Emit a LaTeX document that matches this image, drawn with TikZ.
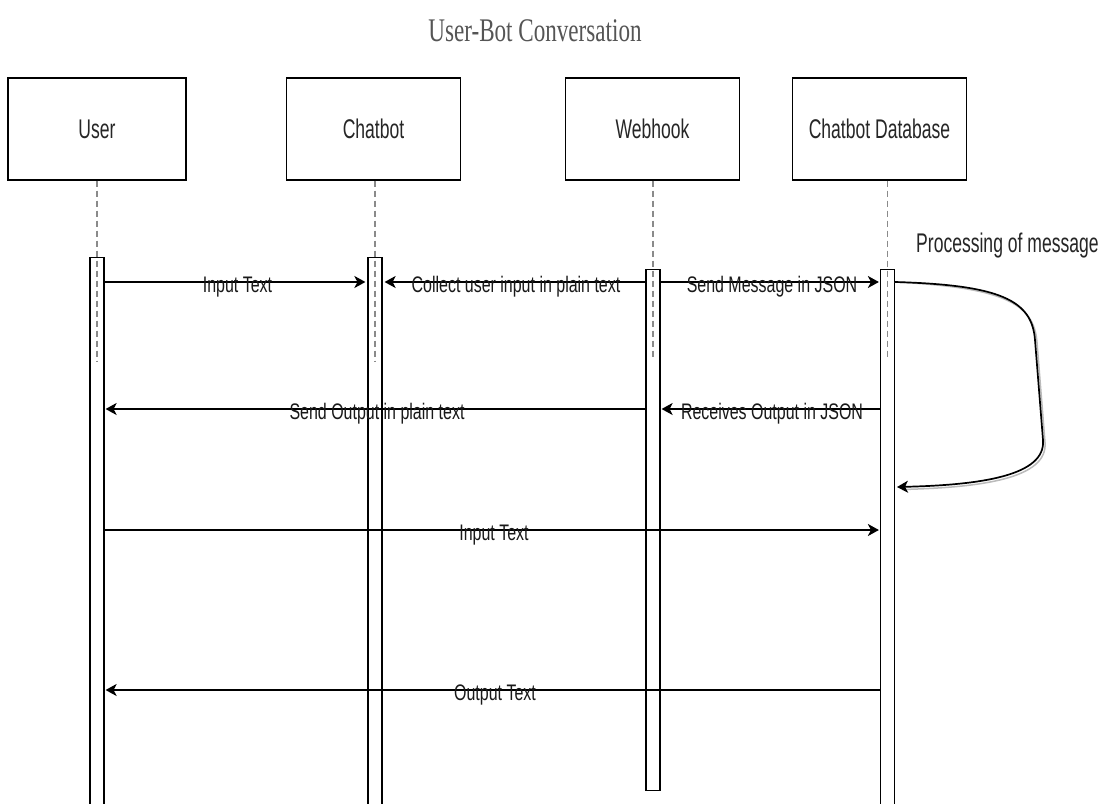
\documentclass[tikz,border=0pt]{standalone}
\usepackage{fontspec}
\usetikzlibrary{arrows.meta}
\newfontfamily\labfont[FakeStretch=0.71]{Liberation Sans}
\newfontfamily\boxfont[FakeStretch=0.65]{Liberation Sans}
\newfontfamily\ttlfont[FakeStretch=0.70]{Liberation Serif}
\definecolor{ttlgray}{HTML}{555555}
\definecolor{dashgray}{HTML}{8A8A8A}
\definecolor{shadowgray}{HTML}{BBBBBB}
\tikzset{
  actor/.style={draw=black, line width=1.2pt, fill=white, minimum width=174pt, minimum height=102pt, inner sep=0pt, font=\boxfont\fontsize{27}{30}\selectfont, text=black!85},
  actbar/.style={draw=black, line width=1.2pt, fill=white, minimum width=14pt, inner sep=0pt, anchor=north},
  life/.style={dashgray, line width=1.2pt, dash pattern=on 6pt off 4pt},
  msg/.style={draw=black, line width=1.7pt, -{Stealth[length=11pt,width=12pt,inset=3pt]}},
  lbl/.style={font=\labfont\fontsize{22.5}{25}\selectfont, text=black!90, inner sep=0pt, anchor=base},
}
\begin{document}
\begin{tikzpicture}[x=1pt,y=1pt]
\useasboundingbox (0,0) rectangle (1105,-803);
\clip (0,0) rectangle (1105,-803);
\fill[white] (0,0) rectangle (1105,-803);

% title
\node[anchor=base, inner sep=0pt, font=\ttlfont\fontsize{33}{36}\selectfont, text=ttlgray] (title) at (535,-41) {User-Bot Conversation};

% actors
\node[actor, minimum width=178pt] (user) at (97,-129) {User};
\node[actor] (chat) at (373.5,-129) {Chatbot};
\node[actor] (hook) at (652.5,-129) {Webhook};
\node[actor] (db) at (879.5,-129) {Chatbot Database};

% activation bars
\node[actbar, minimum height=560pt] (ubar) at (97,-257) {};
\node[actbar, minimum height=560pt] (cbar) at (375,-257) {};
\node[actbar, minimum height=521pt] (hbar) at (653,-269) {};
\node[actbar, minimum height=545pt] (dbar) at (887.5,-269) {};

% lifelines
\coordinate (ue) at (97,-362);
\coordinate (ce) at (375,-362);
\coordinate (he) at (653,-360);
\coordinate (de) at (887.5,-360);
\draw[life] (user.south -| ue) -- (ue);
\draw[life] (chat.south -| ce) -- (ce);
\draw[life] (hook.south -| he) -- (he);
\draw[life] (db.south -| de) -- (de);

% row coordinates
\coordinate (r1) at (0,-282);
\coordinate (r2) at (0,-409);
\coordinate (r3) at (0,-530);
\coordinate (r4) at (0,-690);

% messages
\draw[msg] (ubar.east |- r1) -- ([xshift=-2pt]cbar.west |- r1);
\node[lbl] (m1) at (237.5,-292) {Input Text};

\draw[msg] (hbar.west |- r1) -- ([xshift=2pt]cbar.east |- r1);
\node[lbl] (m2) at (516,-292) {Collect user input in plain text};

\draw[msg] (hbar.east |- r1) -- ([xshift=-1pt]dbar.west |- r1);
\node[lbl] (m3) at (772,-292) {Send Message in JSON};

\draw[msg] (dbar.west |- r2) -- ([xshift=1pt]hbar.east |- r2);
\node[lbl] (m5) at (772,-419) {Receives Output in JSON};

\draw[msg] (hbar.west |- r2) -- ([xshift=1pt]ubar.east |- r2);
\node[lbl] (m6) at (377,-419) {Send Output in plain text};

\draw[msg] (ubar.east |- r3) -- ([xshift=-1pt]dbar.west |- r3);
\node[lbl] (m7) at (494,-540) {Input Text};

\draw[msg] (dbar.west |- r4) -- ([xshift=1pt]ubar.east |- r4);
\node[lbl] (m8) at (495,-700) {Output Text};

% self loop
\coordinate (ls) at (895,-282);
\coordinate (le) at (897,-487);
\draw[shadowgray, line width=1.5pt, shift={(2pt,-2.5pt)}]
  (ls) .. controls (1000,-285) and (1032,-300) .. (1035,-340)
  -- (1043,-440) .. controls (1046,-476) and (980,-485) .. (900,-487);
\draw[msg] (dbar.east |- ls) .. controls (1000,-285) and (1032,-300) .. (1035,-340)
  -- (1043,-440) .. controls (1046,-476) and (980,-485) .. (le);
\node[anchor=base west, inner sep=0pt, font=\boxfont\fontsize{27}{30}\selectfont, text=black!85] (proc) at (916,-252) {Processing of message};
\end{tikzpicture}
\end{document}
